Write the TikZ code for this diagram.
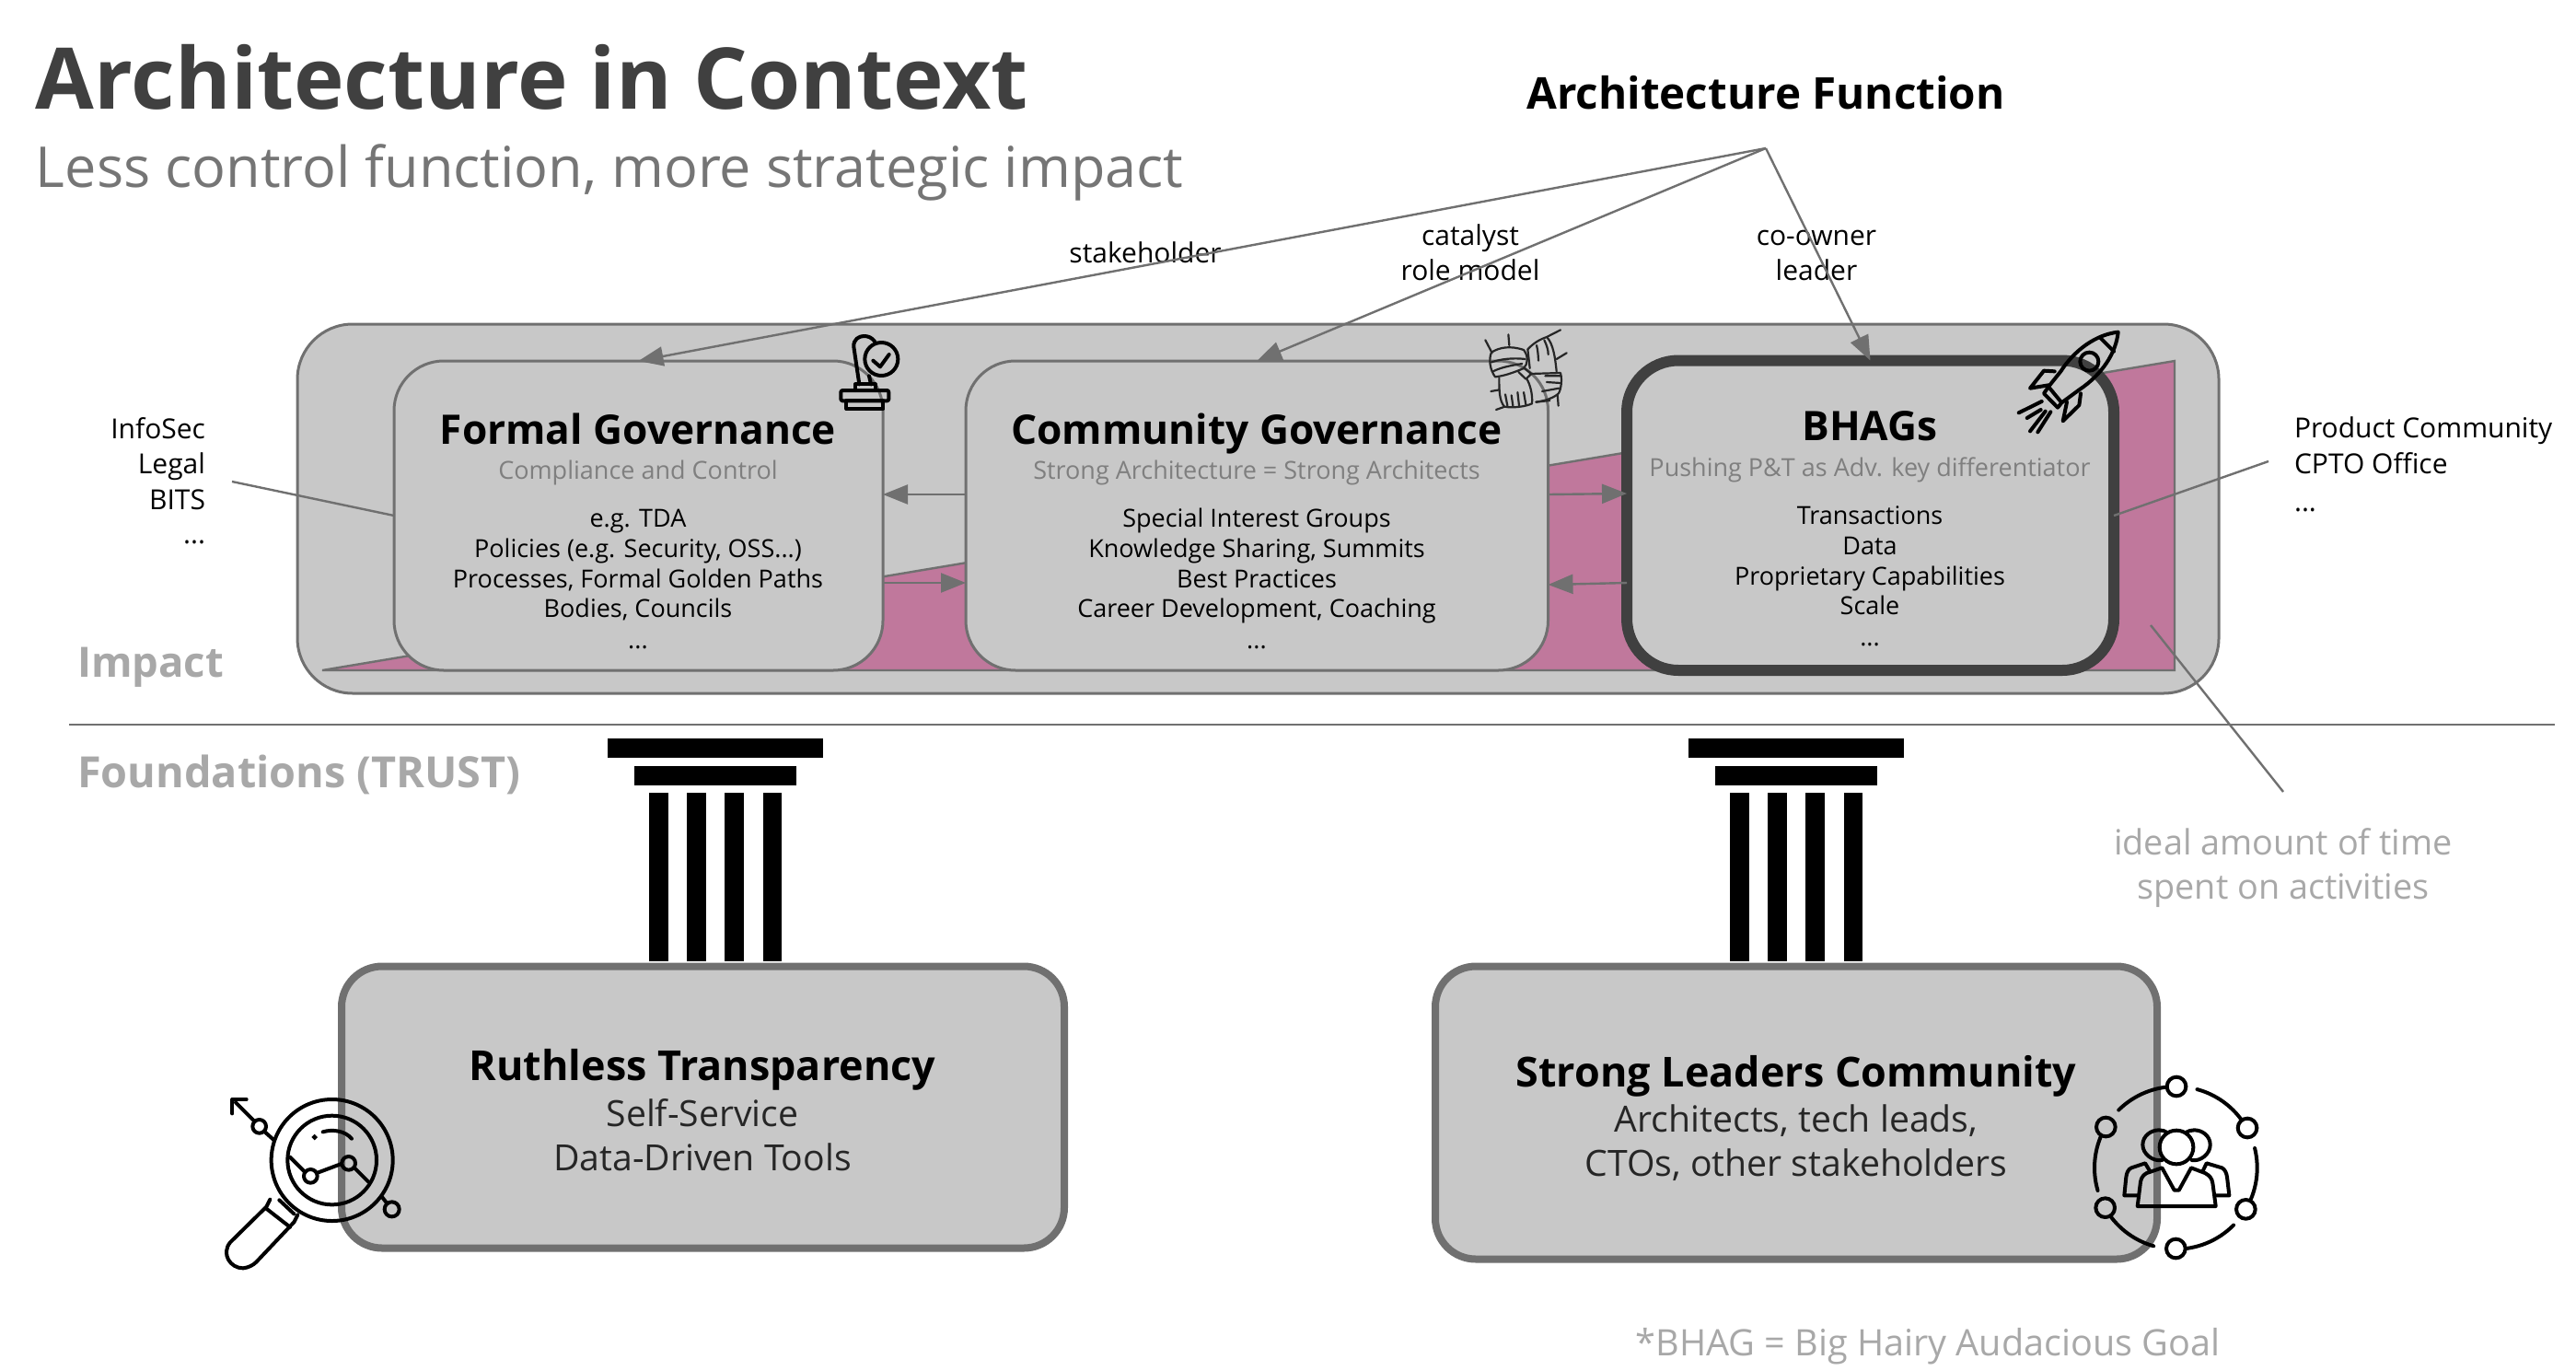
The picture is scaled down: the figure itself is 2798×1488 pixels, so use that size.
\documentclass[tikz,border=0pt]{standalone}
\usepackage{fontspec}
\setmainfont{Open Sans}
\usetikzlibrary{arrows.meta}
\definecolor{boxfill}{HTML}{C8C8C8}
\definecolor{edge}{HTML}{707070}
\definecolor{pinkarea}{HTML}{C0789C}
\definecolor{darkedge}{HTML}{404040}
\definecolor{titlecol}{HTML}{404040}
\definecolor{subcol}{HTML}{757575}
\definecolor{paleg}{HTML}{A8A8A8}
\definecolor{boxsub}{HTML}{7F7F7F}
\newcommand\fz[1]{\fontsize{#1}{#1}\selectfont}
\tikzset{
 lbl/.style={inner sep=0pt,outer sep=0pt,anchor=base},
 lblr/.style={inner sep=0pt,outer sep=0pt,anchor=base east},
 lbll/.style={inner sep=0pt,outer sep=0pt,anchor=base west},
 boxt/.style={lbl,font=\fz{22.1}\bfseries,text=black},
 boxs/.style={lbl,font=\fz{13.5},text=boxsub},
 boxb/.style={lbl,font=\fz{13.5},text=black},
 side/.style={font=\fz{15},text=black},
 govbox/.style={draw=edge,fill=boxfill,line width=1.5pt,rounded corners=27pt,inner sep=0pt,outer sep=0pt},
 trustbox/.style={draw=edge,fill=boxfill,line width=4pt,rounded corners=22pt,inner sep=0pt,outer sep=0pt},
 conn/.style={draw=edge,line width=1.2pt},
 arr/.style={conn,-{Triangle[length=13.5pt,width=10.5pt]}},
 icon/.style={draw=black,line width=2pt,line cap=round,line join=round},
 thinicon/.style={draw=black!85,line width=1.1pt,line cap=round,line join=round},
 bar/.style={fill=black,draw=none},
}
\begin{document}
\begin{tikzpicture}[x=0.5pt,y=-0.5pt]
\useasboundingbox (0,0) rectangle (2798,1488);
% outer panel and pink area
\node[draw=edge,fill=boxfill,line width=1.5pt,rounded corners=30pt,minimum width=1043.5pt,minimum height=200.5pt,inner sep=0pt,outer sep=0pt] (panel) at (1366.5,552.5) {};
\draw[draw=edge,fill=pinkarea,line width=1.2pt,line join=miter] (350,728) -- (2362,392) -- (2362,728) -- cycle;
% three boxes
\node[govbox,minimum width=265.5pt,minimum height=168pt] (formal) at (693.5,560) {};
\node[govbox,minimum width=316.25pt,minimum height=168pt] (community) at (1365.25,560) {};
\node[draw=darkedge,fill=boxfill,line width=6pt,rounded corners=28pt,minimum width=264.5pt,minimum height=168.25pt,inner sep=0pt,outer sep=0pt] (bhag) at (2031.5,559.75) {};
% titles
\node[lbll,font=\fz{46.2}\bfseries,text=titlecol] (title) at (39,118) {Architecture in Context};
\node[lbll,font=\fz{30.6},text=subcol] (subtitle) at (39,203) {Less control function, more strategic impact};
\node[lbl,font=\fz{23.8}\bfseries,text=black] (archfn) at (1918,118) {Architecture Function};
\coordinate (apex) at (1918,161);
% formal
\node[boxt] (ft) at (693,482) {Formal Governance};
\node[boxs] (fs) at (693,520) {Compliance and Control};
\node[boxb] (f1) at (693,572) {e.g. TDA};
\node[boxb] (f2) at (693,605) {Policies (e.g. Security, OSS...)};
\node[boxb] (f3) at (693,638) {Processes, Formal Golden Paths};
\node[boxb] (f4) at (693,670) {Bodies, Councils};
\node[boxb] (f5) at (693,704) {...};
% community
\node[boxt] (ct) at (1365,482) {Community Governance};
\node[boxs] (cs) at (1365,520) {Strong Architecture = Strong Architects};
\node[boxb] (c1) at (1365,572) {Special Interest Groups};
\node[boxb] (c2) at (1365,605) {Knowledge Sharing, Summits};
\node[boxb] (c3) at (1365,638) {Best Practices};
\node[boxb] (c4) at (1365,670) {Career Development, Coaching};
\node[boxb] (c5) at (1365,704) {...};
% bhags
\node[boxt] (bt) at (2031,478) {BHAGs};
\node[boxs] (bs) at (2031,517) {Pushing P\&T as Adv. key differentiator};
\node[boxb] (b1) at (2031,569) {Transactions};
\node[boxb] (b2) at (2031,602) {Data};
\node[boxb] (b3) at (2031,635) {Proprietary Capabilities};
\node[boxb] (b4) at (2031,667) {Scale};
\node[boxb] (b5) at (2031,701) {...};
% relation labels
\node[lbl,side] (lstake) at (1244,285) {stakeholder};
\node[lbl,side] (lcat) at (1597,266) {catalyst};
\node[lbl,side] (lrole) at (1597,304) {role model};
\node[lbl,side] (lco) at (1973,266) {co-owner};
\node[lbl,side] (llead) at (1973,304) {leader};
% connectors from the function
\draw[arr] (apex) -- (formal.north);
\draw[arr] (apex) -- (community.north);
\draw[arr] (apex) -- (bhag.north);
% side arrows
\coordinate (fe1) at (959,633); \coordinate (ce1) at (1049,633);
\coordinate (fe2) at (959,537); \coordinate (ce2) at (1049,537);
\coordinate (ce3) at (1681.5,537); \coordinate (be3) at (1767,536);
\coordinate (ce4) at (1681.5,635); \coordinate (be4) at (1767,633);
\draw[arr] (fe1) -- (ce1);
\draw[arr] (ce2) -- (fe2);
\draw[arr] (ce3) -- (be3);
\draw[arr] (be4) -- (ce4);
% side labels
\node[lblr,side] (li1) at (223,476) {InfoSec};
\node[lblr,side] (li2) at (223,514) {Legal};
\node[lblr,side] (li3) at (223,553) {BITS};
\node[lblr,side] (li4) at (223,590) {...};
\node[lbll,side] (lp1) at (2492,475) {Product Community};
\node[lbll,side] (lp2) at (2492,514) {CPTO Office};
\node[lbll,side] (lp3) at (2492,555) {...};
\coordinate (lfree) at (252,523); \coordinate (lend) at (428,560);
\coordinate (rfree) at (2464,501); \coordinate (rend) at (2296,560);
\draw[conn] (lfree) -- (lend);
\draw[conn] (rfree) -- (rend);
\coordinate (ifree) at (2336,679); \coordinate (iend) at (2480,860);
\draw[conn] (ifree) -- (iend);
% divider
\coordinate (d1) at (75,787); \coordinate (d2) at (2775,787);
\draw[conn] (d1) -- (d2);
\node[lbll,font=\fz{22.7}\bfseries,text=paleg] (impact) at (84,735) {Impact};
\node[lbll,font=\fz{23.4}\bfseries,text=paleg] (found) at (84,855) {Foundations (TRUST)};
\node[lbl,font=\fz{18.9},text=paleg] (id1) at (2480,928) {ideal amount of time};
\node[lbl,font=\fz{18.9},text=paleg] (id2) at (2480,976) {spent on activities};
\node[lbl,font=\fz{19.8},text=paleg] (foot) at (2094,1472) {*BHAG = Big Hairy Audacious Goal};
% pillars
\foreach \dx in {0,1174}{
 \begin{scope}[shift={(\dx,0)}]
 \fill[bar] (660,802) rectangle (894,823);
 \fill[bar] (689,832) rectangle (865,853);
 \fill[bar] (705,861) rectangle (726,1044);
 \fill[bar] (746,861) rectangle (767,1044);
 \fill[bar] (787,861) rectangle (808,1044);
 \fill[bar] (829,861) rectangle (849,1044);
 \end{scope}
}
% foundations
\node[trustbox,minimum width=392.5pt,minimum height=153pt] (rt) at (763.5,1202.5) {};
\node[trustbox,minimum width=392pt,minimum height=159pt] (sl) at (1951,1208.5) {};
\node[lbl,font=\fz{22.45}\bfseries,text=black] (rt1) at (763,1173) {Ruthless Transparency};
\node[lbl,font=\fz{19.6},text=black!85] (rt2) at (763,1223) {Self-Service};
\node[lbl,font=\fz{19.6},text=black!85] (rt3) at (763,1271) {Data-Driven Tools};
\node[lbl,font=\fz{22.45}\bfseries,text=black] (sl1) at (1951,1180) {Strong Leaders Community};
\node[lbl,font=\fz{19.6},text=black!85] (sl2) at (1951,1229) {Architects, tech leads,};
\node[lbl,font=\fz{19.6},text=black!85] (sl3) at (1951,1277) {CTOs, other stakeholders};
% stamp icon
\begin{scope}[shift={(880,340)},x=0.1666667pt,y=-0.1666667pt]
 \draw[icon] (232,150) circle (54);
 \draw[icon] (205,155) -- (228,175) -- (257,135);
 \draw[icon] (160,232) -- (142,110) .. controls (140,85) and (160,75) .. (175,75) .. controls (190,75) and (200,80) .. (210,92);
 \draw[icon] (192,205) -- (198,232);
 \draw[icon] (147,252) -- (147,232) -- (212,232) -- (212,252);
 \draw[icon,rounded corners=1pt] (100,252) rectangle (256,286);
 \draw[icon] (118,286) rectangle (238,312);
\end{scope}
% handshake icon
\begin{scope}[shift={(1600,340)},x=0.1666667pt,y=-0.1666667pt]
 \draw[thinicon] (60,128) .. controls (85,112) and (120,105) .. (165,120) .. controls (180,140) and (180,165) .. (165,180) .. controls (130,195) and (100,205) .. (72,208) .. controls (55,185) and (50,150) .. (60,128);
 \draw[thinicon] (178,118) .. controls (200,95) and (220,85) .. (240,78) .. controls (262,100) and (268,150) .. (272,190);
 \draw[thinicon] (178,118) -- (185,180);
 \draw[thinicon] (185,198) -- (285,195) .. controls (292,220) and (285,260) .. (275,265) .. controls (255,280) and (235,285) .. (205,290);
 \draw[thinicon] (85,212) .. controls (85,250) and (85,285) .. (102,305) .. controls (130,310) and (170,305) .. (192,295) .. controls (195,265) and (185,230) .. (175,215);
 \draw[thinicon] (148,192) -- (172,215) -- (190,198) -- (165,178);
 \draw[thinicon] (40,88) -- (62,130) (115,70) -- (118,105) (285,55) -- (240,78) (305,130) -- (272,150) (278,302) -- (275,265) (58,255) -- (86,250) (75,315) -- (103,305) (205,290) -- (250,285);
 \draw[thinicon] (60,160) .. controls (90,150) and (130,145) .. (170,150) (65,190) .. controls (95,175) and (130,170) .. (160,165);
 \draw[thinicon] (207,105) .. controls (212,125) and (212,140) .. (213,155) (232,88) .. controls (240,105) and (245,120) .. (245,135);
 \draw[thinicon] (235,205) -- (285,205) (240,225) -- (285,228) (225,255) -- (280,245);
 \draw[thinicon] (105,265) -- (112,302) (125,268) -- (130,302) (145,258) -- (150,302) (165,258) -- (172,298);
\end{scope}
% rocket icon
\begin{scope}[shift={(2180,340)},x=0.1666667pt,y=-0.1666667pt]
 \draw[icon] (362,62) .. controls (290,70) and (220,120) .. (175,190) -- (135,240) -- (178,292) -- (235,250) .. controls (310,200) and (355,130) .. (362,62) -- cycle;
 \draw[icon] (305,82) -- (348,125);
 \draw[icon] (268,158) circle (30);
 \draw[icon] (155,190) -- (120,188) -- (75,245) -- (135,235);
 \draw[icon] (240,262) -- (235,300) -- (182,352) -- (195,290);
 \draw[icon] (135,240) -- (120,262) -- (165,308) -- (178,292);
 \draw[icon] (38,325) -- (113,288) (65,342) -- (110,315) (75,385) -- (125,320) (100,388) -- (142,322);
\end{scope}
% magnifier icon
\begin{scope}[shift={(220,1150)},x=0.1666667pt,y=-0.1666667pt]
 \draw[icon] (422,330) circle (198);
 \draw[icon] (422,330) circle (145);
 \draw[icon] (285,320) -- (333,368) (372,372) -- (452,342) (496,356) -- (540,400);
 \draw[icon] (352,382) circle (22);
 \draw[icon] (476,340) circle (22);
 \draw[icon] (392,238) .. controls (425,228) and (465,235) .. (486,260);
 \fill[black] (365,245) -- (375,255) -- (365,265) -- (355,255) -- cycle;
 \draw[icon] (232,264) -- (202,237) (170,204) -- (108,142);
 \draw[icon] (185,220) circle (22);
 \draw[icon] (97,178) -- (97,132) -- (143,132);
 \draw[icon] (585,450) -- (602,472);
 \draw[icon] (617,490) circle (24);
 \draw[icon] (220,458) -- (208,482) -- (90,598) .. controls (60,635) and (90,682) .. (132,682) .. controls (150,680) and (165,672) .. (175,662) -- (298,532) -- (310,508) ;
 \draw[icon] (250,460) -- (298,505);
 \draw[icon] (208,488) -- (285,548);
\end{scope}
% people icon
\begin{scope}[shift={(2250,1150)},x=0.1666667pt,y=-0.1666667pt]
 \foreach \a/\b in {97.6/134.7,74.8/36.9,14/-22.8,-44.8/-82.3,-105.9/-142.7,-163.8/-202.6}{
  \draw[icon] plot[domain=\a:\b,samples=14,smooth] ({340+265*cos(\x)},{355-265*sin(\x)});
 }
 \foreach \p in {(342,90),(573,225),(568,490),(340,618),(110,485),(112,222)}{
  \draw[icon] \p circle (31);
 }
 \draw[icon] (342,288) circle (55);
 \draw[icon] (295,330) .. controls (265,335) and (232,310) .. (232,280) .. controls (232,250) and (260,232) .. (285,232) .. controls (295,232) and (305,235) .. (312,240);
 \draw[icon] (392,330) .. controls (420,335) and (452,310) .. (452,280) .. controls (452,250) and (425,232) .. (400,232) .. controls (390,232) and (380,235) .. (372,240);
 \draw[icon] (215,480) -- (225,400) .. controls (228,385) and (235,378) .. (245,372) -- (295,355) -- (335,428) -- (350,428) -- (390,355) -- (435,372) .. controls (450,380) and (458,390) .. (460,405) -- (470,480) -- cycle;
 \draw[icon] (255,365) -- (240,340) -- (195,355) .. controls (185,360) and (180,370) .. (178,385) -- (172,445) -- (218,445);
 \draw[icon] (428,365) -- (440,340) -- (490,355) .. controls (500,360) and (505,372) .. (507,385) -- (514,445) -- (468,445);
\end{scope}
\end{tikzpicture}
\end{document}
